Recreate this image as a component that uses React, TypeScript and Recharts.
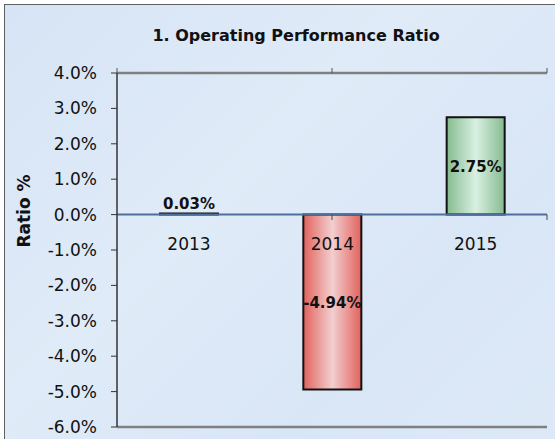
import React from 'react'
import { BarChart, Bar, XAxis, YAxis, Cell, LabelList, ReferenceLine } from 'recharts'

const years = ['2013', '2014', '2015']
const ratios = [0.03, -4.94, 2.75]
const yTicks = [-6, -5, -4, -3, -2, -1, 0, 1, 2, 3, 4]
const topTicks = [0, 1, 2, 3, 4, 5]
const barFills = ['#2c3e5a', 'url(#redBar)', 'url(#greenBar)']

const data = years.map((year, i) => ({ year, ratio: ratios[i] }))

const font = '"DejaVu Sans", Verdana, sans-serif'

function zeroOf(props: any) {
  const { y, height, index } = props
  const top = Math.min(y, y + height)
  const bottom = Math.max(y, y + height)
  return { top, bottom, zero: ratios[index] >= 0 ? bottom : top }
}

function ValueLabel(props: any) {
  const { x, width, value } = props
  const { top, bottom } = zeroOf(props)
  const cx = x + width / 2
  const small = bottom - top < 20
  const ty = small ? top - 5 : (top + bottom) / 2 + 6
  return (
    <text x={cx} y={ty} textAnchor="middle" fontFamily={font} fontWeight="bold" fontSize={15} fill="#111">
      {value.toFixed(2)}%
    </text>
  )
}

function YearLabel(props: any) {
  const { x, width, value } = props
  const { zero } = zeroOf(props)
  return (
    <text x={x + width / 2} y={zero + 35} textAnchor="middle" fontFamily={font} fontSize={17} fill="#111">
      {value}
    </text>
  )
}

export default function App() {
  return (
    <div style={{ position: 'absolute', left: 0, top: 0, width: 555, height: 439, background: '#fff', overflow: 'hidden' }}>
      <div
        style={{
          position: 'absolute',
          left: 4,
          top: 4,
          width: 560,
          height: 450,
          border: '1.5px solid #606060',
          background: 'linear-gradient(135deg, #d6e4f5 0%, #e0ebf8 40%, #d9e6f6 70%, #dde9f7 100%)',
        }}
      />
      <div
        style={{
          position: 'absolute',
          left: 0,
          top: 26,
          width: 592,
          textAlign: 'center',
          fontFamily: font,
          fontWeight: 'bold',
          fontSize: 16,
          color: '#111',
        }}
      >
        1. Operating Performance Ratio
      </div>
      <div style={{ position: 'absolute', left: 0, top: 0 }}>
        <BarChart width={555} height={439} data={data} margin={{ top: 68, right: 8, bottom: 12, left: 0 }}>
          <defs>
            <linearGradient id="redBar" x1="0" y1="0" x2="1" y2="0">
              <stop offset="0%" stopColor="#e2625c" />
              <stop offset="50%" stopColor="#f2cfd0" />
              <stop offset="100%" stopColor="#e2625c" />
            </linearGradient>
            <linearGradient id="greenBar" x1="0" y1="0" x2="1" y2="0">
              <stop offset="0%" stopColor="#86bb8f" />
              <stop offset="50%" stopColor="#d8f0e2" />
              <stop offset="100%" stopColor="#86bb8f" />
            </linearGradient>
          </defs>
          <XAxis dataKey="year" hide />
          <XAxis
            xAxisId="top"
            orientation="top"
            type="number"
            domain={[0, 5]}
            ticks={topTicks}
            interval={0}
            height={5}
            tick={() => <g />}
            tickSize={5}
            tickLine={{ stroke: '#555' }}
            axisLine={false}
          />
          <XAxis xAxisId="num" type="number" domain={[0, 3]} hide />
          <YAxis
            width={117}
            domain={[-6, 4]}
            ticks={yTicks}
            interval={0}
            tickSize={6}
            tickMargin={14}
            tickFormatter={(v: number) => `${v.toFixed(1)}%`}
            tick={{ fontFamily: font, fontSize: 17, fill: '#111' }}
            tickLine={{ stroke: '#333' }}
            axisLine={{ stroke: '#333', strokeWidth: 1.5 }}
            label={{
              content: () => (
                <text
                  x={30}
                  y={211}
                  transform="rotate(-90 30 211)"
                  textAnchor="middle"
                  fontFamily={font}
                  fontWeight="bold"
                  fontSize={17}
                  fill="#111"
                >
                  Ratio %
                </text>
              ),
            }}
          />
          <ReferenceLine y={4} stroke="#808080" strokeWidth={2.5} />
          <ReferenceLine y={-6} stroke="#808080" strokeWidth={2.5} />
          <ReferenceLine xAxisId="num" x={3} stroke="#808080" strokeWidth={2.5} />
          <Bar dataKey="ratio" barSize={58} stroke="#111" strokeWidth={2} isAnimationActive={false}>
            {data.map((d, i) => (
              <Cell key={d.year} fill={barFills[i]} />
            ))}
            <LabelList dataKey="ratio" content={ValueLabel} />
            <LabelList dataKey="year" content={YearLabel} />
          </Bar>
          <ReferenceLine y={0} stroke="#4f6f9c" strokeWidth={2} />
          <ReferenceLine xAxisId="num" segment={[{ x: 1, y: 0 }, { x: 1, y: -0.15 }]} stroke="#444" />
          <ReferenceLine xAxisId="num" segment={[{ x: 2, y: 0 }, { x: 2, y: -0.15 }]} stroke="#444" />
        </BarChart>
      </div>
    </div>
  )
}
